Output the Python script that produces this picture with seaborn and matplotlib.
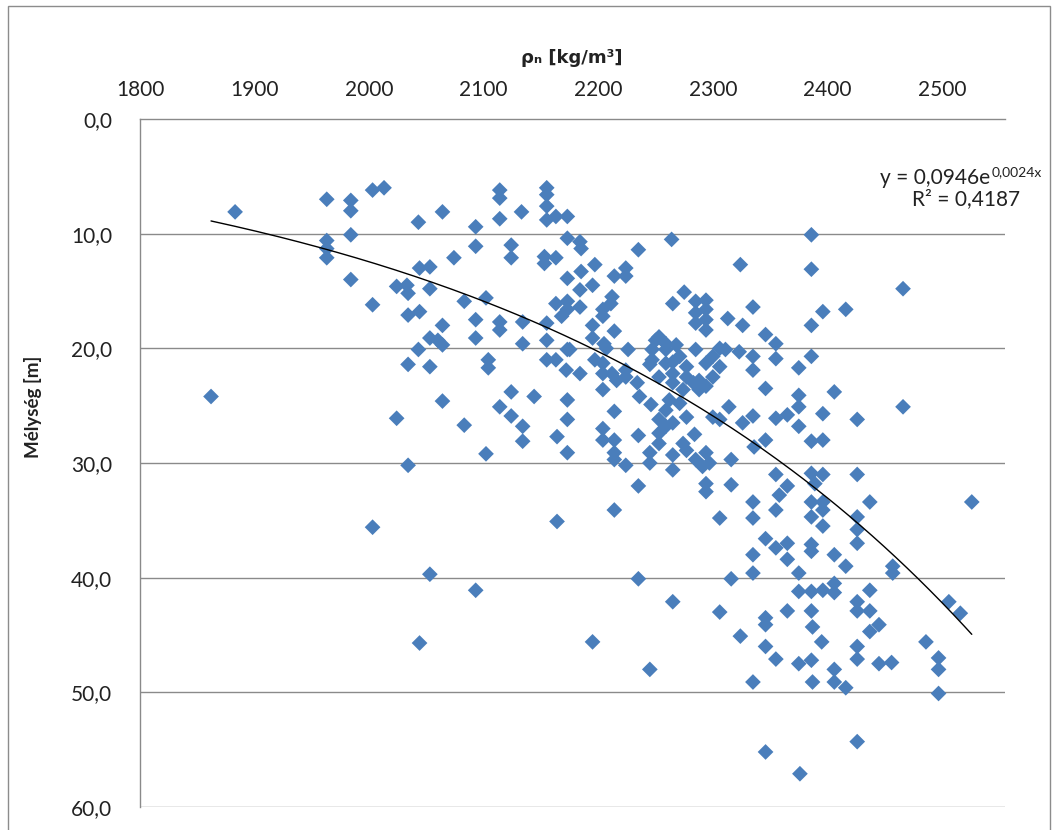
import matplotlib
matplotlib.use("Agg")
import matplotlib.pyplot as plt
import seaborn as sns
import numpy as np
import pandas as pd
from matplotlib.patches import Rectangle

# ---- data (density kg/m3, depth m) ----
density = [
    1883, 1963, 1984, 1984, 2003, 2013, 2043, 2064, 2093, 2093, 1963, 1963, 1963, 1984, 1984,
    2003, 2024, 2033, 2034, 2044, 2053, 2053, 2074, 2083, 2102, 2034, 2044, 2064, 2093, 2053,
    2060, 2064, 2093, 2043, 2034, 2053, 1862, 2064, 2024, 2083,
    2114, 2114, 2155, 2155, 2133, 2114, 2155, 2155, 2163, 2173, 2173, 2184, 2185, 2264, 2235,
    2124, 2124, 2153, 2163, 2153, 2324, 2197, 2185, 2173, 2224, 2224, 2214, 2195, 2184, 2212,
    2211, 2163, 2173, 2173, 2184, 2168, 2204, 2204, 2275, 2265, 2285, 2294, 2294, 2285, 2294,
    2285, 2294, 2335, 2313, 2326, 2134, 2114, 2114, 2155, 2195, 2214, 2195, 2205, 2155, 2134,
    2173, 2155, 2163, 2104, 2104, 2197, 2226, 2253, 2247, 2259, 2247, 2259, 2271, 2277, 2265,
    2277, 2288, 2300, 2294, 2285, 2300, 2306, 2311, 2323, 2335, 2335, 2204, 2204, 2212, 2224,
    2172, 2184, 2204, 2234, 2236, 2124, 2144, 2173, 2114, 2124, 2214, 2246, 2253, 2173, 2314,
    2326, 2335, 2259, 2271, 2277, 2265, 2300, 2134,
    2386, 2386, 2466, 2396, 2416, 2386, 2346, 2355, 2355, 2386, 2375, 2346, 2375, 2375, 2406,
    2396, 2426, 2466, 2355, 2365, 2375,
    2102, 2034, 2003, 2053, 2093, 2044,
    2134, 2164, 2173, 2204, 2204, 2214, 2214, 2214, 2224, 2235, 2245, 2245, 2253, 2253, 2259,
    2265, 2265, 2274, 2284, 2277, 2285, 2294, 2291, 2297, 2294, 2294, 2316, 2316, 2306, 2235,
    2214, 2164, 2335, 2335, 2335, 2335, 2235, 2316, 2265, 2306, 2324, 2195, 2245, 2335,
    2386, 2396, 2346, 2336, 2355, 2386, 2396, 2389, 2426, 2365, 2358, 2355, 2386, 2396, 2386,
    2396, 2396, 2437, 2426, 2426, 2426, 2526, 2346, 2355, 2365, 2365, 2386, 2386, 2406, 2416,
    2457, 2457, 2375, 2375, 2386, 2396, 2406, 2406, 2437, 2426, 2426, 2437, 2506, 2516, 2365,
    2386, 2346,
    2346, 2346, 2355, 2387, 2395, 2375, 2386, 2387, 2406, 2406, 2416, 2445, 2437, 2426, 2426,
    2445, 2456, 2486, 2497, 2497, 2497, 2346, 2426, 2376,
    2175, 2207, 2216, 2224, 2250, 2259, 2268, 2245, 2265, 2253, 2265, 2283, 2274, 2262, 2288,
    2306, 2294, 2306,
]
depth = [
    8.1, 7.0, 7.1, 8.0, 6.2, 6.0, 9.0, 8.1, 9.4, 11.1, 10.6, 11.3, 12.1, 10.1, 14.0,
    16.2, 14.6, 14.5, 15.2, 13.0, 12.9, 14.8, 12.1, 15.9, 15.6, 17.1, 16.8, 18.0, 17.5, 19.1,
    19.3, 19.7, 19.1, 20.1, 21.4, 21.6, 24.2, 24.6, 26.1, 26.7,
    6.2, 6.9, 6.0, 6.6, 8.1, 8.7, 7.6, 8.8, 8.5, 8.5, 10.4, 10.7, 11.3, 10.5, 11.4,
    11.0, 12.1, 12.0, 12.1, 12.6, 12.7, 12.7, 13.3, 13.9, 13.0, 13.7, 13.7, 14.5, 14.9, 15.5,
    16.1, 16.1, 15.9, 16.6, 16.4, 17.2, 16.6, 17.2, 15.1, 16.1, 15.9, 15.8, 16.6, 16.9, 17.5,
    17.8, 18.4, 16.4, 17.4, 18.0, 17.7, 17.7, 18.4, 17.8, 18.0, 18.5, 19.1, 19.6, 19.3, 19.6,
    20.1, 21.0, 21.0, 21.0, 21.7, 21.0, 20.1, 19.0, 20.1, 20.1, 21.0, 21.3, 20.7, 21.6, 22.2,
    22.5, 22.8, 22.5, 23.3, 20.1, 20.7, 21.6, 20.1, 20.3, 20.7, 21.9, 21.3, 22.2, 22.2, 21.9,
    21.9, 22.2, 23.6, 23.0, 24.2, 23.8, 24.2, 24.5, 25.1, 25.9, 25.5, 24.9, 26.2, 26.2, 25.1,
    26.5, 25.9, 25.4, 24.8, 26.0, 26.5, 26.0, 26.8,
    10.1, 13.1, 14.8, 16.8, 16.6, 18.0, 18.8, 19.6, 20.9, 20.7, 21.7, 23.5, 24.1, 25.1, 23.8,
    25.7, 26.2, 25.1, 26.1, 25.8, 26.8,
    29.2, 30.2, 35.6, 39.7, 41.1, 45.7,
    28.1, 27.7, 29.1, 27.0, 28.0, 28.0, 29.1, 29.7, 30.2, 27.6, 29.1, 30.0, 27.4, 28.3, 26.8,
    29.3, 30.6, 28.3, 27.5, 28.9, 29.7, 29.1, 30.3, 30.0, 31.8, 32.5, 29.7, 31.9, 34.8, 32.0,
    34.1, 35.1, 33.4, 34.8, 38.0, 39.6, 40.1, 40.1, 42.1, 43.0, 45.1, 45.6, 48.0, 49.1,
    28.1, 28.0, 28.0, 28.6, 31.0, 30.9, 31.0, 31.8, 31.0, 32.0, 32.8, 34.1, 33.4, 33.4, 34.7,
    34.1, 35.5, 33.4, 34.7, 35.8, 37.0, 33.4, 36.6, 37.4, 37.0, 38.4, 37.1, 37.7, 38.0, 39.0,
    39.0, 39.6, 39.6, 41.2, 41.2, 41.1, 40.5, 41.3, 41.1, 42.1, 42.9, 42.9, 42.1, 43.1, 42.9,
    42.9, 43.5,
    44.1, 46.0, 47.1, 44.3, 45.6, 47.5, 47.2, 49.1, 48.0, 49.1, 49.6, 44.1, 44.7, 46.0, 47.1,
    47.5, 47.4, 45.6, 47.0, 48.0, 50.1, 55.2, 54.3, 57.1,
    20.1, 20.0, 22.8, 22.5, 19.3, 19.6, 19.7, 21.4, 21.2, 22.5, 23.0, 23.0, 23.6, 24.5, 23.6,
    20.0, 21.3, 26.2,
]

# exponential trendline (Excel): y = a * exp(b x)
trend_a = 0.0946
trend_b = 0.00244
eq_label = "y = 0,0946e"
eq_exp = "0,0024x"
r2_label = "R² = 0,4187"

x_ticks = [1800, 1900, 2000, 2100, 2200, 2300, 2400, 2500]
y_ticks = [0, 10, 20, 30, 40, 50, 60]

df = pd.DataFrame({"density": density, "depth": depth})

W, H = 1057, 830
sns.set_theme(style="white")
plt.rcParams["font.family"] = ["Lato", "DejaVu Sans"]

fig = plt.figure(figsize=(W / 100, H / 100), dpi=100)
fig.patch.set_facecolor("white")

L, R, T, B = 140, 1005, 119, 807
ax = fig.add_axes([L / W, 1 - B / H, (R - L) / W, (B - T) / H])

grid_c = "#8a8a8a"
sns.scatterplot(data=df, x="density", y="depth", marker="D", s=64,
                color="#4A7EBB", edgecolor="none", linewidth=0, ax=ax, zorder=3)

xs = np.linspace(min(density), max(density), 200)
ax.plot(xs, trend_a * np.exp(trend_b * xs), color="black", lw=1.0, zorder=4)

ax.set_xlim(1800, 2555)
ax.set_ylim(60, 0)
ax.set_xticks(x_ticks)
ax.set_yticks(y_ticks)
ax.set_xticklabels([str(v) for v in x_ticks])
ax.set_yticklabels([f"{v:.1f}".replace(".", ",") for v in y_ticks])
ax.xaxis.tick_top()
ax.tick_params(axis="both", length=0, labelsize=15, colors="#222222")
ax.tick_params(axis="x", pad=14)
ax.tick_params(axis="y", pad=20)
ax.set_xlabel("")
ax.set_ylabel("")

for yv in y_ticks[1:]:
    ax.axhline(yv, color=grid_c, lw=1.0, zorder=1)
for s in ["right", "bottom"]:
    ax.spines[s].set_visible(False)
for s in ["left", "top"]:
    ax.spines[s].set_color(grid_c)
    ax.spines[s].set_linewidth(1.0)

# axis titles
fig.text(572 / W, 1 - 58 / H, "ρₙ [kg/m³]", ha="center", va="center",
         fontsize=13, fontweight="bold", color="#222222",
         family=["DejaVu Sans"])
fig.text(33 / W, 1 - 407 / H, "Mélység [m]", ha="center", va="center",
         rotation=90, fontsize=13.5, fontweight="bold", color="#222222")

# trendline equation
t1 = fig.text(880 / W, 1 - 178 / H, eq_label, ha="left", va="center",
              fontsize=15, color="#222222")
fig.canvas.draw()
bb = t1.get_window_extent(renderer=fig.canvas.get_renderer())
fig.text(bb.x1 / W + 0.001, 1 - 172 / H, eq_exp, ha="left", va="center",
         fontsize=10, color="#222222")
fig.text(1020 / W, 1 - 199 / H, r2_label, ha="right", va="center",
         fontsize=15, color="#222222")

# outer chart border
fig.patches.append(Rectangle((8 / W, -0.05), (1050 - 8) / W, 1 - 6 / H + 0.05,
                             transform=fig.transFigure, fill=False,
                             edgecolor="#8c8c8c", lw=1.0))

fig.savefig("out.png", dpi=100, facecolor="white")
